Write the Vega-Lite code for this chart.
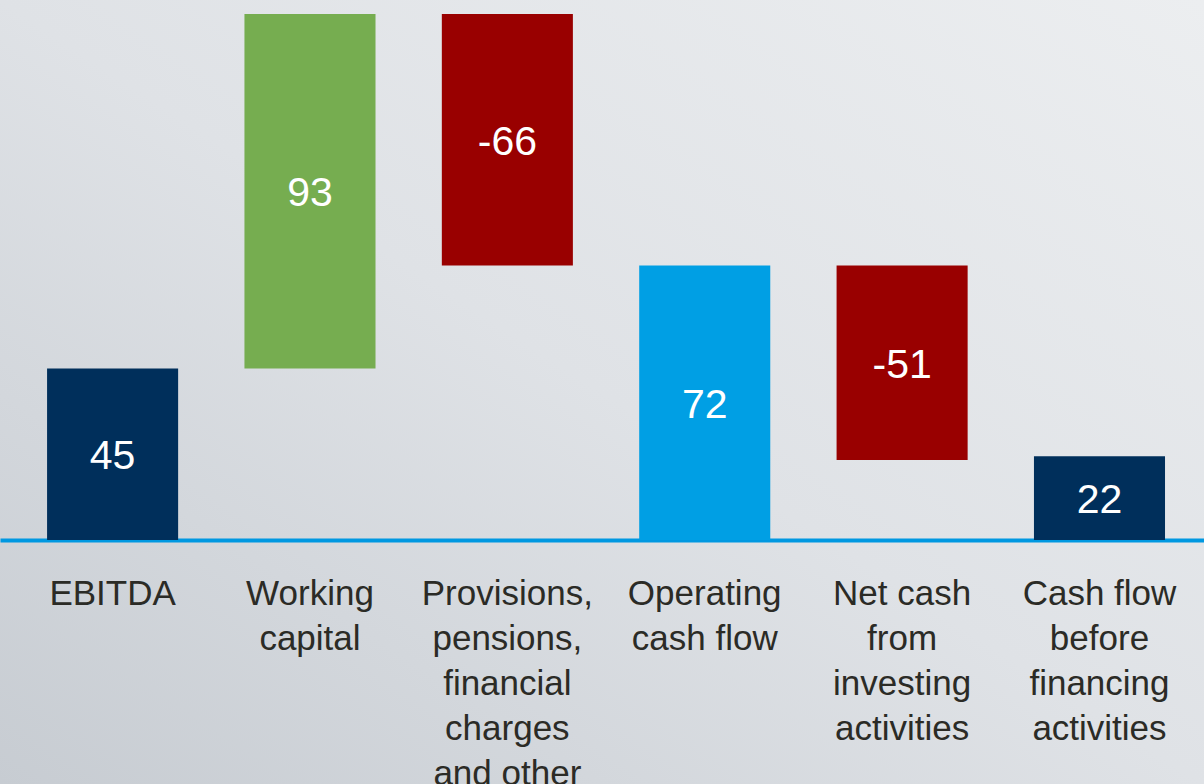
{
  "$schema": "https://vega.github.io/schema/vega-lite/v6.json",
  "width": 1204,
  "height": 784,
  "autosize": {"type": "none"},
  "padding": 0,
  "background": "#dfe2e6",
  "config": {
    "view": {
      "stroke": null,
      "fill": {
        "gradient": "linear",
        "x1": 0, "y1": 1, "x2": 1, "y2": 0,
        "stops": [
          {"offset": 0, "color": "#c7ccd2"},
          {"offset": 0.5, "color": "#dfe2e6"},
          {"offset": 1, "color": "#eceef0"}
        ]
      }
    },
    "font": "Liberation Sans"
  },
  "data": {
    "values": [
      {"item": "EBITDA", "start": 0, "end": 45, "label": "45", "kind": "total"},
      {"item": "Working\ncapital", "start": 45, "end": 138, "label": "93", "kind": "increase"},
      {"item": "Provisions,\npensions,\nfinancial\ncharges\nand other", "start": 138, "end": 72, "label": "-66", "kind": "decrease"},
      {"item": "Operating\ncash flow", "start": 0, "end": 72, "label": "72", "kind": "subtotal"},
      {"item": "Net cash\nfrom\ninvesting\nactivities", "start": 72, "end": 21, "label": "-51", "kind": "decrease"},
      {"item": "Cash flow\nbefore\nfinancing\nactivities", "start": 0, "end": 22, "label": "22", "kind": "total"}
    ]
  },
  "transform": [
    {"calculate": "(datum.start + datum.end) / 2", "as": "mid"}
  ],
  "encoding": {
    "x": {
      "field": "item",
      "type": "nominal",
      "sort": null,
      "scale": {"paddingInner": 0.336, "paddingOuter": 0.218, "align": 0.547},
      "axis": {
        "title": null,
        "orient": "bottom",
        "offset": -244,
        "ticks": false,
        "tickSize": 0,
        "domain": true,
        "domainColor": "#0098e1",
        "domainWidth": 4,
        "labelAngle": 0,
        "labelExpr": "split(datum.label, '\\n')",
        "labelFont": "Liberation Sans",
        "labelFontSize": 35,
        "labelLineHeight": 45,
        "labelColor": "#2b2b26",
        "labelPadding": 36,
        "labelBaseline": "top",
        "labelAlign": "center",
        "labelLimit": 0
      }
    }
  },
  "layer": [
    {
      "mark": {"type": "bar"},
      "encoding": {
        "y": {
          "field": "start",
          "type": "quantitative",
          "scale": {"domain": [-64.02, 141.67], "nice": false, "zero": false},
          "axis": null
        },
        "y2": {"field": "end"},
        "color": {
          "field": "kind",
          "type": "nominal",
          "scale": {
            "domain": ["total", "increase", "decrease", "subtotal"],
            "range": ["#002f5b", "#76ad50", "#990000", "#009fe4"]
          },
          "legend": null
        }
      }
    },
    {
      "mark": {"type": "text", "color": "white", "fontSize": 41, "font": "Liberation Sans", "baseline": "middle", "align": "center", "dy": 3},
      "encoding": {
        "y": {"field": "mid", "type": "quantitative"},
        "text": {"field": "label", "type": "nominal"}
      }
    }
  ]
}
